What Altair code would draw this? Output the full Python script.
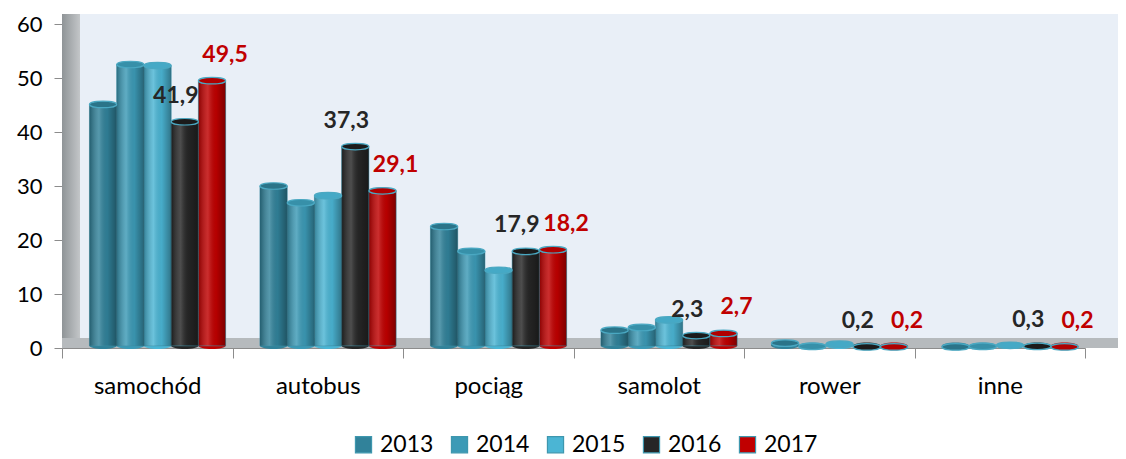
import altair as alt
import pandas as pd

categories = ["samochód", "autobus", "pociąg", "samolot", "rower", "inne"]
years = ["2013", "2014", "2015", "2016", "2017"]
v2013 = [45.1, 30.0, 22.5, 3.3, 0.9, 0.2]
v2014 = [52.5, 26.9, 17.9, 3.8, 0.3, 0.3]
v2015 = [52.3, 28.2, 14.4, 5.2, 0.7, 0.5]
v2016 = [41.9, 37.3, 17.9, 2.3, 0.2, 0.3]
v2017 = [49.5, 29.1, 18.2, 2.7, 0.2, 0.2]
series = [v2013, v2014, v2015, v2016, v2017]
y_ticks = [0, 10, 20, 30, 40, 50, 60]

bar_colors = ["#31829A", "#3C9AB6", "#4BB5D4", "#262626", "#C00000"]
cap_colors = ["#2B7489", "#3790A9", "#45A9C6", "#1B1B1B", "#B00000"]

rows = []
for i, c in enumerate(categories):
    for yr, vals in zip(years, series):
        rows.append({"kat": c, "rok": yr, "val": vals[i],
                     "lab": f"{vals[i]:.1f}".replace(".", ",")})
df = pd.DataFrame(rows)
deco = pd.DataFrame({"d": [0]})

FONT = "Lato"
W, H = 1023, 324
BW = 27.2

xenc = alt.X("kat:N", sort=categories,
             scale=alt.Scale(paddingInner=0, paddingOuter=0),
             axis=alt.Axis(title=None, labelAngle=0, labelFontSize=24, labelFont=FONT,
                           labelColor="#000000", tickBand="extent", tickSize=10,
                           tickColor="#8C8C8C", domainColor="#8C8C8C", labelPadding=16))
xoff = alt.XOffset("rok:N", sort=years,
                   scale=alt.Scale(paddingInner=0, paddingOuter=0.63, align=0.8))
yenc = alt.Y("val:Q", scale=alt.Scale(domain=[0, 60]),
             axis=alt.Axis(title=None, values=y_ticks, grid=False, labelFontSize=22,
                           labelFont=FONT, labelColor="#000000", tickSize=8,
                           labelPadding=12, tickColor="#8C8C8C", domainColor="#8C8C8C"))
color = alt.Color("rok:N", sort=years, scale=alt.Scale(domain=years, range=bar_colors),
                  legend=alt.Legend(title=None, orient="none", direction="horizontal",
                                    legendX=290, legendY=409, symbolType="square",
                                    symbolSize=260, symbolStrokeColor="#3E97AE",
                                    symbolStrokeWidth=1.2, labelFontSize=23, labelFont=FONT,
                                    labelColor="#000000", columnPadding=14, labelOffset=5,
                                    padding=0))

back = alt.Chart(deco).mark_rect(color="#E9EFF7").encode(
    x=alt.value(18), x2=alt.value(W + 33), y=alt.value(-10), y2=alt.value(H - 10))
left = alt.Chart(deco).mark_rect(
    color=alt.LinearGradient(gradient="linear", x1=0, x2=1, y1=0, y2=0,
                             stops=[alt.GradientStop(color="#8F9497", offset=0),
                                    alt.GradientStop(color="#C3C6C8", offset=1)])
).encode(x=alt.value(0), x2=alt.value(18), y=alt.value(-10), y2=alt.value(H))
floor = alt.Chart(deco).mark_rect(color="#B6BABD").encode(
    x=alt.value(0), x2=alt.value(W + 33), y=alt.value(H - 10), y2=alt.value(H))

ell = "M-1,0A1,0.24,0,1,1,1,0A1,0.24,0,1,1,-1,0Z"

base = alt.Chart(df)
bottom = base.mark_point(shape=ell, size=BW * BW, filled=True, opacity=1).encode(
    x=xenc, xOffset=xoff, y=alt.datum(0.4), color=color)
bars = base.mark_bar(stroke="#3B8FA6", strokeWidth=0.6).encode(
    x=xenc, xOffset=xoff, y=yenc, y2=alt.datum(0.4), color=color)
shade = base.mark_bar(
    color=alt.LinearGradient(gradient="linear", x1=0, x2=1, y1=0, y2=0,
                             stops=[alt.GradientStop(color="rgba(0,0,0,0.28)", offset=0),
                                    alt.GradientStop(color="rgba(255,255,255,0.18)", offset=0.35),
                                    alt.GradientStop(color="rgba(0,0,0,0.05)", offset=0.65),
                                    alt.GradientStop(color="rgba(0,0,0,0.35)", offset=1)])
).encode(x=xenc, xOffset=xoff, y=yenc, y2=alt.datum(0.4))
caps = base.mark_point(shape=ell, size=BW * BW, filled=True, opacity=1,
                       stroke="#4AA8C2", strokeWidth=1.2).encode(
    x=xenc, xOffset=xoff, y=yenc,
    fill=alt.Fill("rok:N", sort=years, scale=alt.Scale(domain=years, range=cap_colors),
                  legend=None))
t16 = base.transform_filter(alt.datum.rok == "2016").mark_text(
    dy=-26, dx=-9, fontSize=23, fontWeight="bold", font=FONT, color="#262626").encode(
    x=xenc, xOffset=xoff, y=yenc, text="lab:N")
t17 = base.transform_filter(alt.datum.rok == "2017").mark_text(
    dy=-26, dx=13, fontSize=23, fontWeight="bold", font=FONT, color="#C00000").encode(
    x=xenc, xOffset=xoff, y=yenc, text="lab:N")

chart = alt.layer(back, left, floor, bottom, bars, shade, caps, t16, t17).resolve_scale(
    fill="independent"
).properties(
    width=W, height=H, autosize="none",
    padding={"left": 54, "top": 16, "right": 33, "bottom": 111},
    background="white"
).configure_view(stroke=None)

chart.save("out.html", embed_options={"renderer": "svg", "actions": False})
